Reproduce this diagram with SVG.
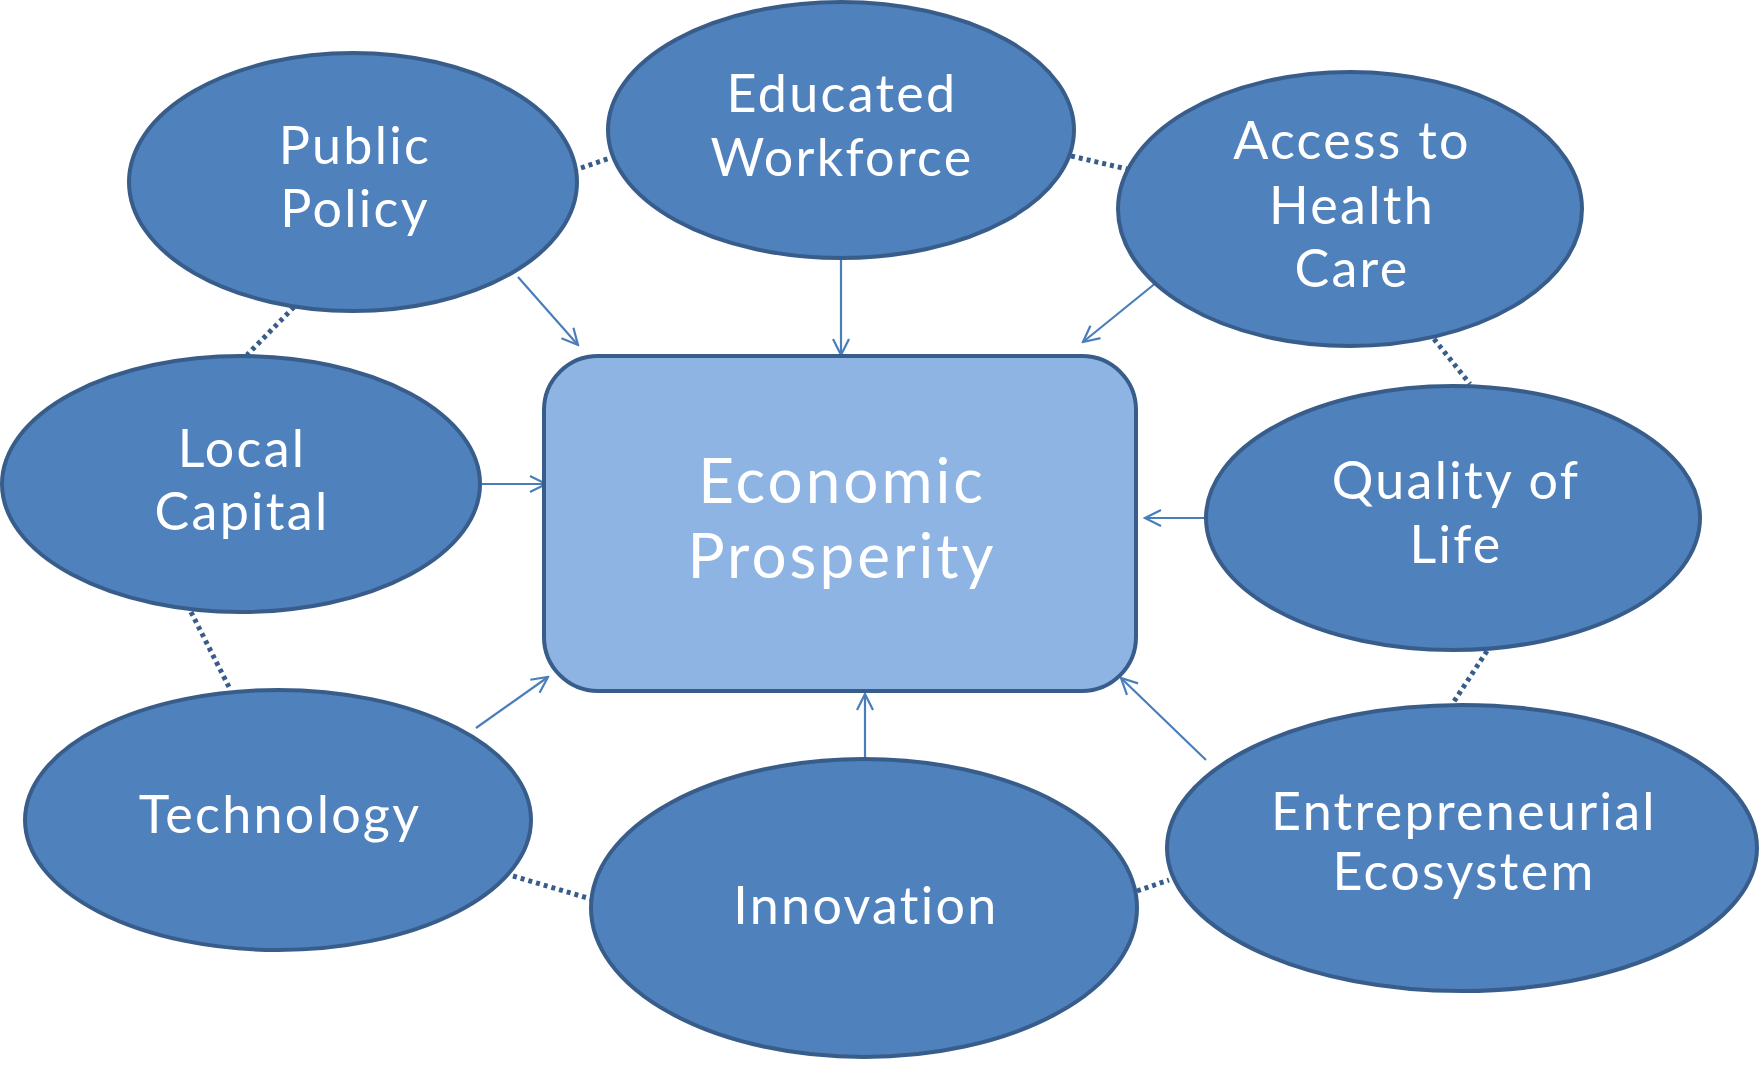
<svg xmlns="http://www.w3.org/2000/svg" width="1763" height="1067" viewBox="0 0 1763 1067">
<defs>
<style>
.node{fill:#4f81bd;stroke:#385d8a;stroke-width:4}
.hub{fill:#8eb4e3;stroke:#385d8a;stroke-width:4}
.t{font-family:Lato,"Open Sans","Liberation Sans",sans-serif;font-size:52px;fill:#ffffff;text-anchor:middle;letter-spacing:2.3px}
.th{font-family:Lato,"Open Sans","Liberation Sans",sans-serif;font-size:62px;fill:#ffffff;text-anchor:middle;letter-spacing:3px}
.arr{stroke:#4a7ebb;stroke-width:2.2;fill:none;marker-end:url(#ah)}
.dot{stroke:#385d8a;stroke-width:5;fill:none;stroke-dasharray:4 4}
</style>
<marker id="ah" viewBox="0 0 20 20" refX="18" refY="10" markerWidth="20" markerHeight="20" markerUnits="userSpaceOnUse" orient="auto">
<path d="M2,2 L18,10 L2,18" fill="none" stroke="#4a7ebb" stroke-width="2.2"/>
</marker>
</defs>
<rect width="1763" height="1067" fill="#ffffff"/>
<g id="connectors">
<line class="dot" x1="581" y1="168" x2="610" y2="158"/>
<line class="dot" x1="1071" y1="156" x2="1127" y2="169"/>
<line class="dot" x1="1434" y1="339" x2="1470" y2="384"/>
<line class="dot" x1="294" y1="307" x2="247" y2="355"/>
<line class="dot" x1="191" y1="612" x2="230" y2="689"/>
<line class="dot" x1="513" y1="876" x2="591" y2="899"/>
<line class="dot" x1="1137" y1="891" x2="1169" y2="880"/>
<line class="dot" x1="1487" y1="651" x2="1453" y2="703"/>
<line class="arr" x1="518" y1="277" x2="578" y2="345"/>
<line class="arr" x1="841" y1="258" x2="841" y2="355"/>
<line class="arr" x1="1157" y1="282" x2="1083" y2="342"/>
<line class="arr" x1="482" y1="484" x2="546" y2="484"/>
<line class="arr" x1="1206" y1="518" x2="1145" y2="518"/>
<line class="arr" x1="476" y1="728" x2="548" y2="677"/>
<line class="arr" x1="865" y1="759" x2="865" y2="694"/>
<line class="arr" x1="1206" y1="760" x2="1121" y2="678"/>
</g>
<g id="hub">
<rect class="hub" x="544" y="356" width="592" height="335" rx="54" ry="54"/>
<text class="th" x="842" y="503">Economic</text>
<text class="th" x="842" y="578">Prosperity</text>
</g>
<g id="public-policy">
<ellipse class="node" cx="353" cy="182" rx="224" ry="129"/>
<text class="t" x="355" y="164">Public</text>
<text class="t" x="355" y="227">Policy</text>
</g>
<g id="educated-workforce">
<ellipse class="node" cx="841" cy="130" rx="233" ry="128"/>
<text class="t" x="842" y="112">Educated</text>
<text class="t" x="842" y="176">Workforce</text>
</g>
<g id="access-health-care">
<ellipse class="node" cx="1350" cy="209" rx="232" ry="137"/>
<text class="t" x="1352" y="159">Access to</text>
<text class="t" x="1352" y="224">Health</text>
<text class="t" x="1352" y="287">Care</text>
</g>
<g id="local-capital">
<ellipse class="node" cx="241" cy="484" rx="239" ry="128"/>
<text class="t" x="242" y="467">Local</text>
<text class="t" x="242" y="530">Capital</text>
</g>
<g id="quality-of-life">
<ellipse class="node" cx="1453" cy="518" rx="247" ry="132"/>
<text class="t" x="1456" y="499">Quality of</text>
<text class="t" x="1456" y="563">Life</text>
</g>
<g id="technology">
<ellipse class="node" cx="278" cy="820" rx="253" ry="130"/>
<text class="t" x="280" y="833">Technology</text>
</g>
<g id="innovation">
<ellipse class="node" cx="864" cy="908" rx="273" ry="149"/>
<text class="t" x="866" y="924">Innovation</text>
</g>
<g id="entrepreneurial-ecosystem">
<ellipse class="node" cx="1462" cy="848" rx="295" ry="143"/>
<text class="t" x="1464" y="830">Entrepreneurial</text>
<text class="t" x="1464" y="890">Ecosystem</text>
</g>
</svg>
